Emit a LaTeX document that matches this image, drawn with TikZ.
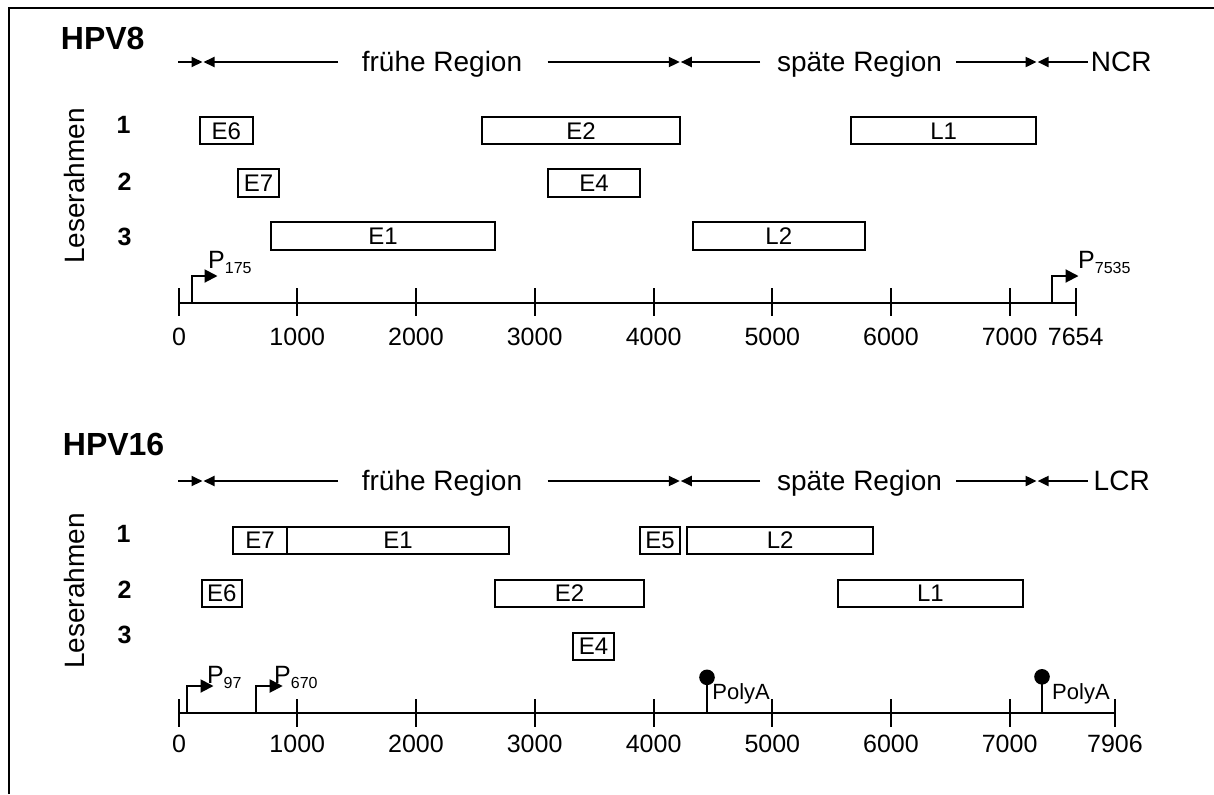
\documentclass[tikz,border=0pt]{standalone}
\usepackage{fontspec}
\setmainfont{Liberation Sans}
\usetikzlibrary{arrows.meta}
\newcommand{\gbox}[5]{\node[genebox, minimum width={(#3-#2)*0.5pt}] (#1) at ({(#2+#3)/2},#4) {#5};}
\newcommand{\psub}[1]{P\raisebox{-2.8pt}{\fontsize{8pt}{9pt}\selectfont #1}}
\begin{document}
\begin{tikzpicture}[x=0.5pt, y=-0.5pt,
  genebox/.style={draw, line width=0.95pt, minimum height=13.6pt, inner sep=0pt, text height=8.6pt, text depth=0pt, font=\fontsize{12pt}{13pt}\selectfont},
  title/.style={font=\bfseries\fontsize{16pt}{19pt}\selectfont, anchor=base west, inner sep=0pt},
  region/.style={font=\fontsize{14pt}{16pt}\selectfont, anchor=base, inner sep=0pt},
  frameno/.style={font=\bfseries\fontsize{12.5pt}{14pt}\selectfont, anchor=base, inner sep=0pt},
  lr/.style={font=\fontsize{14pt}{16pt}\selectfont, anchor=base, rotate=90, inner sep=0pt},
  num/.style={font=\fontsize{12.5pt}{14pt}\selectfont, anchor=base, inner sep=0pt},
  axisline/.style={line width=1pt},
  tickmark/.style={line width=1pt},
  regarr/.style={line width=1pt, -{Triangle[length=5.5pt,width=5pt]}},
  prom/.style={line width=1pt, -{Triangle[length=6.5pt,width=6.5pt]}},
  plab/.style={font=\fontsize{12.5pt}{14pt}\selectfont, anchor=base west, inner sep=0pt},
  polya/.style={font=\fontsize{11pt}{12pt}\selectfont, anchor=base west, inner sep=0pt},
]
\useasboundingbox (0,0) rectangle (1214,794);
% frame
\draw[line width=1pt] (8.7,794) -- (8.7,7.5) -- (1214,7.5);

% ================= HPV8 =================
\node[title] (h8title) at (60.5,49) {HPV8};
% region arrows
\coordinate (h8l0) at (178,62);   \coordinate (h8t1) at (202.5,62);
\coordinate (h8l1) at (338,62);   \coordinate (h8t2) at (203.5,62);
\coordinate (h8l2) at (547.6,62); \coordinate (h8t3) at (679.8,62);
\coordinate (h8l3) at (760,62);   \coordinate (h8t4) at (680.8,62);
\coordinate (h8l4) at (956.3,62); \coordinate (h8t5) at (1036.6,62);
\coordinate (h8l5) at (1087.5,62);\coordinate (h8t6) at (1037.6,62);
\draw[regarr] (h8l0) -- (h8t1);
\draw[regarr] (h8l1) -- (h8t2);
\draw[regarr] (h8l2) -- (h8t3);
\draw[regarr] (h8l3) -- (h8t4);
\draw[regarr] (h8l4) -- (h8t5);
\draw[regarr] (h8l5) -- (h8t6);
\node[region] (h8early) at (442,71) {frühe Region};
\node[region] (h8late) at (859.5,71) {späte Region};
\node[region, anchor=base west] (h8ncr) at (1090.5,71) {NCR};
% reading frames
\node[lr] (h8lr) at (84,186) {Leserahmen};
\node[frameno] (h8f1) at (123.5,133.3) {1};
\node[frameno] (h8f2) at (124.5,190) {2};
\node[frameno] (h8f3) at (124.5,245) {3};
% genes
\gbox{h8e6}{199.7}{253}{130.5}{E6}
\gbox{h8e2}{481.6}{680.3}{130.5}{E2}
\gbox{h8l1box}{851.4}{1035.8}{130.5}{L1}
\gbox{h8e7}{238.4}{278.8}{183}{E7}
\gbox{h8e4}{547.6}{640.3}{183}{E4}
\gbox{h8e1}{270.9}{495}{236}{E1}
\gbox{h8l2box}{692.8}{864.7}{236}{L2}
% axis
\coordinate (h8ax0) at (179.1,302.7);
\coordinate (h8ax1) at (1075.7,302.7);
\draw[axisline] (h8ax0) -- (h8ax1);
\foreach \x/\l in {179.1/0, 297.3/1000, 416/2000, 534.6/3000, 653.6/4000, 772.3/5000, 890.9/6000, 1009.6/7000, 1075.7/7654}{
  \draw[tickmark] (\x,288.3) -- (\x,316);
  \node[num] (h8n\l) at (\x,345) {\l};
}
% promoters
\coordinate (h8p1s) at (191.8,302.7);  \coordinate (h8p1t) at (217.5,276);
\draw[prom] (h8p1s) |- (h8p1t);
\node[plab] (h8p1) at (207.8,268.3) {\psub{175}};
\coordinate (h8p2s) at (1052.2,302.7); \coordinate (h8p2t) at (1078.5,276);
\draw[prom] (h8p2s) |- (h8p2t);
\node[plab] (h8p2) at (1077.8,268.3) {\psub{7535}};

% ================= HPV16 =================
\node[title] (h16title) at (62.5,455) {HPV16};
\coordinate (h16l0) at (178,481);   \coordinate (h16t1) at (202.5,481);
\coordinate (h16l1) at (338,481);   \coordinate (h16t2) at (203.5,481);
\coordinate (h16l2) at (547.6,481); \coordinate (h16t3) at (679.8,481);
\coordinate (h16l3) at (760,481);   \coordinate (h16t4) at (680.8,481);
\coordinate (h16l4) at (956.3,481); \coordinate (h16t5) at (1036.6,481);
\coordinate (h16l5) at (1087.5,481);\coordinate (h16t6) at (1037.6,481);
\draw[regarr] (h16l0) -- (h16t1);
\draw[regarr] (h16l1) -- (h16t2);
\draw[regarr] (h16l2) -- (h16t3);
\draw[regarr] (h16l3) -- (h16t4);
\draw[regarr] (h16l4) -- (h16t5);
\draw[regarr] (h16l5) -- (h16t6);
\node[region] (h16early) at (442,490.5) {frühe Region};
\node[region] (h16late) at (859.5,490.5) {späte Region};
\node[region, anchor=base west] (h16lcr) at (1093.3,490.5) {LCR};
\node[lr] (h16lr) at (84,591) {Leserahmen};
\node[frameno] (h16f1) at (123.5,542) {1};
\node[frameno] (h16f2) at (124.5,598) {2};
\node[frameno] (h16f3) at (124.5,643.7) {3};
\gbox{h16e7}{233.3}{286.7}{540.35}{E7}
\gbox{h16e1}{286.7}{509.3}{540.35}{E1}
\gbox{h16e5}{640}{680.3}{540.35}{E5}
\gbox{h16l2box}{687.3}{872.9}{540.35}{L2}
\gbox{h16e6}{201.7}{242}{593.35}{E6}
\gbox{h16e2}{495}{644.2}{593.35}{E2}
\gbox{h16l1box}{838}{1022.9}{593.35}{L1}
\gbox{h16e4}{573.3}{613.7}{646.35}{E4}
\coordinate (h16ax0) at (179.1,712.7);
\coordinate (h16ax1) at (1114.9,712.7);
\draw[axisline] (h16ax0) -- (h16ax1);
\foreach \x/\l in {179.1/0, 297.3/1000, 416/2000, 534.6/3000, 653.6/4000, 772.3/5000, 890.9/6000, 1009.6/7000, 1114.9/7906}{
  \draw[tickmark] (\x,699) -- (\x,726.7);
  \node[num] (h16n\l) at (\x,752.7) {\l};
}
\coordinate (h16p1s) at (186.6,712.7); \coordinate (h16p1t) at (213.5,686);
\draw[prom] (h16p1s) |- (h16p1t);
\node[plab] (h16p1) at (206.6,683.3) {\psub{97}};
\coordinate (h16p2s) at (256.2,712.7); \coordinate (h16p2t) at (282.7,686);
\draw[prom] (h16p2s) |- (h16p2t);
\node[plab] (h16p2) at (273.8,683.3) {\psub{670}};
% PolyA
\coordinate (h16a1s) at (707,712.7); \coordinate (h16a1c) at (707,677.3);
\draw[line width=1pt] (h16a1s) -- (h16a1c);
\fill (h16a1c) circle[radius=7.8];
\node[polya] (h16a1) at (712,699.3) {PolyA};
\coordinate (h16a2s) at (1042,712.7); \coordinate (h16a2c) at (1042,676.8);
\draw[line width=1pt] (h16a2s) -- (h16a2c);
\fill (h16a2c) circle[radius=7.8];
\node[polya] (h16a2) at (1051.8,699.3) {PolyA};
\end{tikzpicture}
\end{document}
